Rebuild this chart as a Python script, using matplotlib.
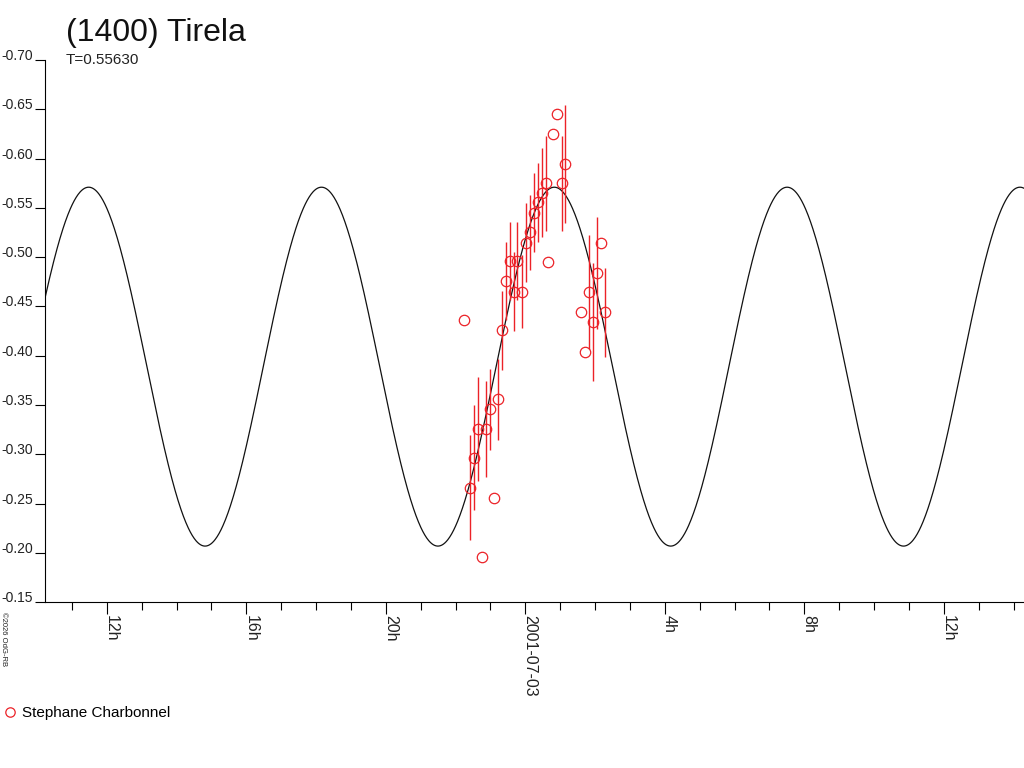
import numpy as np
import matplotlib
matplotlib.use("Agg")
import matplotlib.pyplot as plt
from matplotlib.ticker import FixedLocator

plt.rcParams['font.family'] = ['Liberation Sans', 'DejaVu Sans']

# ---- data (time in hours relative to 2001-07-03 0h UT, relative magnitude) ----
obs_hours = [-1.749, -1.577, -1.462, -1.348, -1.233, -1.127, -1.004, -0.889, -0.774,
             -0.660, -0.562, -0.424, -0.324, -0.224, -0.086, 0.020, 0.141, 0.255,
             0.370, 0.485, 0.588, 0.651, 0.803, 0.918, 1.044, 1.147, 1.606, 1.720,
             1.835, 1.950, 2.070, 2.179, 2.300]
obs_mag = [-0.4363, -0.2664, -0.2967, -0.3258, -0.1962, -0.3258, -0.3457, -0.2555,
           -0.3557, -0.4257, -0.4759, -0.4961, -0.4650, -0.4961, -0.4650, -0.5149,
           -0.5253, -0.5453, -0.5557, -0.5654, -0.5749, -0.4954, -0.6246, -0.6449,
           -0.5749, -0.5942, -0.4441, -0.4042, -0.4644, -0.4340, -0.4837, -0.5141,
           -0.4441]
obs_err = [0.0, 0.053, 0.053, 0.053, 0.0, 0.049, 0.041, 0.0, 0.041, 0.040, 0.040,
           0.040, 0.040, 0.040, 0.037, 0.040, 0.038, 0.040, 0.040, 0.045, 0.048,
           0.0, 0.0, 0.0, 0.048, 0.060, 0.0, 0.0, 0.058, 0.060, 0.057, 0.0, 0.045]

period_days = 0.55630
model_mean = -0.389
model_amp = 0.182
model_peak_hour = 0.832

x_major = [-12, -8, -4, 0, 4, 8, 12]
x_major_labels = ['12h', '16h', '20h', '2001-07-03', '4h', '8h', '12h']
x_minor = list(range(-13, 15))
y_ticks = [-0.70, -0.65, -0.60, -0.55, -0.50, -0.45, -0.40, -0.35, -0.30, -0.25, -0.20, -0.15]
x_limits = (-13.763, 14.30)

title = '(1400) Tirela'
observer = 'Stephane Charbonnel'
red = '#ec2228'

# ---- figure ----
fig = plt.figure(figsize=(10.24, 7.68), dpi=100)
ax = fig.add_axes([45.3 / 1024, 1 - 602.3 / 768, 1 - 45.3 / 1024, (602.3 - 60) / 768])

period_h = period_days * 24
tt = np.linspace(x_limits[0], x_limits[1], 2000)
model = model_mean - model_amp * np.cos(2 * np.pi * 2 * (tt - model_peak_hour) / period_h)
ax.plot(tt, model, color='#111111', lw=0.9, zorder=2)

h = np.array(obs_hours)
m = np.array(obs_mag)
e = np.array(obs_err)
has = e > 0
ax.errorbar(h[has], m[has], yerr=e[has], fmt='none', ecolor=red, elinewidth=1.0,
            capsize=0, zorder=3)
ax.plot(h, m, 'o', mfc='none', mec=red, mew=0.9, ms=7.5, ls='none', zorder=4,
        label=observer)

ax.set_xlim(*x_limits)
ax.set_ylim(-0.15, -0.70)

for s in ['top', 'right']:
    ax.spines[s].set_visible(False)
for s in ['left', 'bottom']:
    ax.spines[s].set_linewidth(0.8)
    ax.spines[s].set_color('black')

ax.yaxis.set_major_locator(FixedLocator(y_ticks))
ax.set_yticks(y_ticks, ['%.2f' % v for v in y_ticks], fontsize=10, va='baseline',
              color='#222222')
ax.tick_params(axis='y', direction='out', length=7.2, width=0.8, pad=1.5)

ax.set_xticks(x_major, x_major_labels, fontsize=11.5, rotation=-90,
              rotation_mode='anchor', ha='left', va='baseline', color='#222222')
ax.xaxis.set_minor_locator(FixedLocator(x_minor))
ax.tick_params(axis='x', which='major', direction='out', length=8.64, width=0.8, pad=0.5)
ax.tick_params(axis='x', which='minor', direction='out', length=5.76, width=0.8)

fig.text(66 / 1024, 1 - 41 / 768, title, fontsize=23, va='baseline', color='#111111')
fig.text(66 / 1024, 1 - 64 / 768, 'T=%.5f' % period_days, fontsize=11, va='baseline',
         color='#222222')
fig.text(2 / 1024, 1 - 612 / 768, '©2026 OdG-RB', fontsize=5.5, rotation=-90,
         rotation_mode='anchor', ha='left', va='baseline', color='#222222')

fig.legend(loc='center left', bbox_to_anchor=(3.9 / 1024, 1 - 713.3 / 768),
           frameon=False, fontsize=11, handlelength=0.8, handletextpad=0.4,
           borderpad=0, borderaxespad=0, markerscale=0.9)

fig.savefig('out.png', dpi=100)
